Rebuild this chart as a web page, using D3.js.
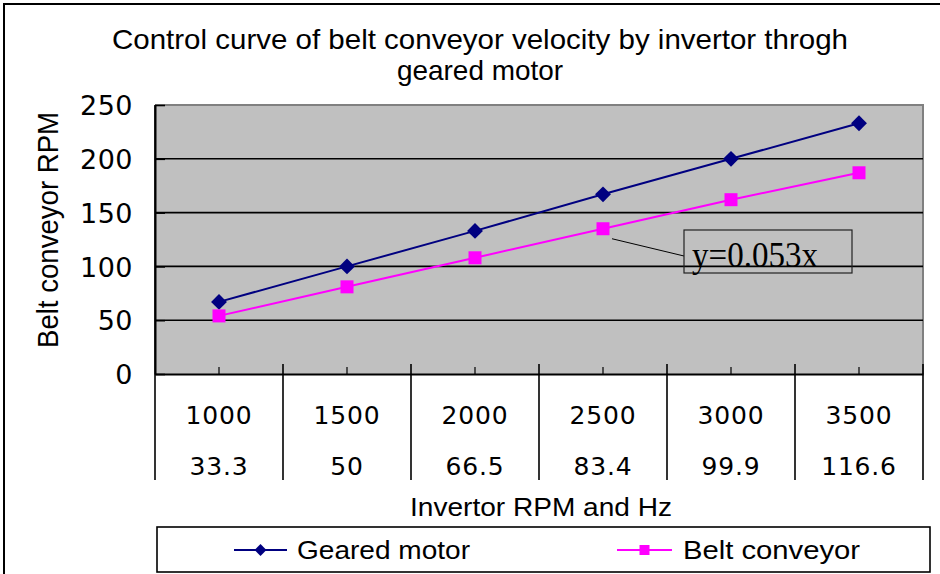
<!DOCTYPE html>
<html>
<head>
<meta charset="utf-8">
<script src="https://cdn.jsdelivr.net/npm/d3@7"></script>
<style>
  html, body { margin: 0; padding: 0; background: #ffffff; }
  svg { display: block; }
</style>
</head>
<body>
<svg id="chart" width="940" height="574"></svg>
<script>
// Invertor speed settings (RPM row and Hz row of the category table)
const rpmLabels = ["1000", "1500", "2000", "2500", "3000", "3500"];
const hzLabels = ["33.3", "50", "66.5", "83.4", "99.9", "116.6"];
// Output speeds, RPM
const gearedMotor = [67, 100, 133, 167, 200, 233];
const beltConveyor = [54, 81, 108, 135, 162, 187];
const yTicks = [0, 50, 100, 150, 200, 250];

const svg = d3.select("#chart");
const plot = { left: 155, right: 923, top: 105, bottom: 374 };
const tableBottom = 480;

const x = d3.scaleBand().domain(rpmLabels).range([plot.left, plot.right]).padding(0);
const y = d3.scaleLinear().domain([0, 250]).range([plot.bottom, plot.top]);
const cx = d => x(d) + x.bandwidth() / 2;

const sans = "'Liberation Sans', Arial, sans-serif";
const numFont = "'DejaVu Sans', 'Liberation Sans', sans-serif";

// outer frame
svg.append("path")
  .attr("d", "M4,580 V4 H945")
  .attr("fill", "none").attr("stroke", "#000").attr("stroke-width", 2);

// title
const title = svg.append("g").attr("font-family", sans).attr("font-size", 28).attr("fill", "#000");
title.append("text").attr("x", 480).attr("y", 49).attr("text-anchor", "middle")
  .attr("textLength", 736).attr("lengthAdjust", "spacingAndGlyphs")
  .text("Control curve of belt conveyor velocity by invertor throgh");
title.append("text").attr("x", 480).attr("y", 80).attr("text-anchor", "middle")
  .attr("textLength", 166).attr("lengthAdjust", "spacingAndGlyphs")
  .text("geared motor");

// plot background
svg.append("rect")
  .attr("x", plot.left).attr("y", plot.top)
  .attr("width", plot.right - plot.left).attr("height", plot.bottom - plot.top)
  .attr("fill", "#c0c0c0");

// top and right border of plot area
svg.append("path")
  .attr("d", `M${plot.left},${plot.top} H${plot.right} V${plot.bottom}`)
  .attr("fill", "none").attr("stroke", "#808080").attr("stroke-width", 2);

// horizontal gridlines
svg.append("g").selectAll("line")
  .data(yTicks.filter(v => v > 0 && v < 250))
  .join("line")
  .attr("x1", plot.left).attr("x2", plot.right)
  .attr("y1", d => y(d)).attr("y2", d => y(d))
  .attr("stroke", "#000").attr("stroke-width", 1.6);

// y axis
const yAxis = svg.append("g")
  .attr("transform", `translate(${plot.left},0)`)
  .call(d3.axisLeft(y).tickValues(yTicks).tickSizeInner(-10).tickSizeOuter(0).tickPadding(22));
yAxis.select(".domain").attr("stroke", "#000").attr("stroke-width", 2);
yAxis.selectAll(".tick line").attr("stroke", "#000").attr("stroke-width", 1.6);
yAxis.selectAll(".tick text")
  .attr("font-family", numFont).attr("font-size", 27).attr("fill", "#000")
  .attr("letter-spacing", 0.5).attr("dy", "0.36em");

// x axis line with small ticks at category centres
const xAxis = svg.append("g")
  .attr("transform", `translate(0,${plot.bottom})`)
  .call(d3.axisBottom(x).tickSizeInner(-7).tickSizeOuter(0).tickFormat(""));
xAxis.select(".domain").attr("stroke", "#000").attr("stroke-width", 2.2);
xAxis.selectAll(".tick line").attr("stroke", "#000").attr("stroke-width", 1.2);

// category table separators
const bounds = rpmLabels.map(d => x(d)).concat([plot.right]);
svg.append("g").selectAll("line")
  .data(bounds)
  .join("line")
  .attr("x1", d => d).attr("x2", d => d)
  .attr("y1", (d, i) => (i === 0 ? plot.top : plot.bottom - 10))
  .attr("y2", tableBottom)
  .attr("stroke", "#000").attr("stroke-width", 1.6);

// table rows
const rows = svg.append("g").attr("font-family", numFont).attr("font-size", 25)
  .attr("fill", "#000").attr("text-anchor", "middle").attr("letter-spacing", 0.8);
rows.selectAll("text.rpm").data(rpmLabels).join("text").attr("class", "rpm")
  .attr("x", d => cx(d)).attr("y", 424).text(d => d);
rows.selectAll("text.hz").data(hzLabels).join("text").attr("class", "hz")
  .attr("x", (d, i) => cx(rpmLabels[i])).attr("y", 475).text(d => d);

// axis titles
svg.append("text")
  .attr("transform", "translate(58,230) rotate(-90)")
  .attr("text-anchor", "middle")
  .attr("font-family", sans).attr("font-size", 29).attr("fill", "#000")
  .attr("textLength", 236).attr("lengthAdjust", "spacingAndGlyphs")
  .text("Belt conveyor RPM");
svg.append("text")
  .attr("x", 541).attr("y", 516).attr("text-anchor", "middle")
  .attr("font-family", sans).attr("font-size", 26).attr("fill", "#000")
  .attr("textLength", 262).attr("lengthAdjust", "spacingAndGlyphs")
  .text("Invertor RPM and Hz");

// series
const line = d3.line().x((d, i) => cx(rpmLabels[i])).y(d => y(d));
const diamond = d3.symbol().type(d3.symbolDiamond2);
const series = [
  { name: "Geared motor", values: gearedMotor, color: "#000080", marker: "diamond" },
  { name: "Belt conveyor", values: beltConveyor, color: "#ff00ff", marker: "square" }
];

series.forEach(s => {
  svg.append("path").datum(s.values)
    .attr("d", line).attr("fill", "none")
    .attr("stroke", s.color).attr("stroke-width", 2);
  const g = svg.append("g");
  if (s.marker === "diamond") {
    g.selectAll("path").data(s.values).join("path")
      .attr("d", diamond.size(160)())
      .attr("transform", (d, i) => `translate(${cx(rpmLabels[i])},${y(d)})`)
      .attr("fill", s.color);
  } else {
    g.selectAll("rect").data(s.values).join("rect")
      .attr("x", (d, i) => cx(rpmLabels[i]) - 6.5).attr("y", d => y(d) - 6.5)
      .attr("width", 13).attr("height", 13)
      .attr("fill", s.color);
  }
});

// trend label for the belt conveyor line
const anchorX = cx("2500") + 9, anchorY = y(beltConveyor[3]) + 10;
const box = { x: 684, y: 230, w: 168, h: 43 };
svg.append("line")
  .attr("x1", anchorX).attr("y1", anchorY)
  .attr("x2", box.x).attr("y2", box.y + 26)
  .attr("stroke", "#000").attr("stroke-width", 1);
svg.append("rect")
  .attr("x", box.x).attr("y", box.y).attr("width", box.w).attr("height", box.h)
  .attr("fill", "none").attr("stroke", "#222").attr("stroke-width", 1.2);
svg.append("text")
  .attr("x", box.x + 8).attr("y", 267)
  .attr("font-family", "'Liberation Serif', 'Times New Roman', serif")
  .attr("font-size", 35).attr("fill", "#000")
  .attr("textLength", 126).attr("lengthAdjust", "spacingAndGlyphs")
  .text("y=0.053x");

// legend
const legend = svg.append("g");
legend.append("rect")
  .attr("x", 157).attr("y", 527).attr("width", 773).attr("height", 45)
  .attr("fill", "#fff").attr("stroke", "#000").attr("stroke-width", 1.6);
const legendItems = [
  { s: series[0], x0: 234, x1: 287, tx: 297, tw: 173 },
  { s: series[1], x0: 617, x1: 672, tx: 683, tw: 177 }
];
legendItems.forEach(it => {
  const ly = 550;
  legend.append("line")
    .attr("x1", it.x0).attr("x2", it.x1).attr("y1", ly).attr("y2", ly)
    .attr("stroke", it.s.color).attr("stroke-width", 2);
  const mx = (it.x0 + it.x1) / 2;
  if (it.s.marker === "diamond") {
    legend.append("path").attr("d", diamond.size(90)())
      .attr("transform", `translate(${mx},${ly})`).attr("fill", it.s.color);
  } else {
    legend.append("rect").attr("x", mx - 5).attr("y", ly - 5)
      .attr("width", 10).attr("height", 10).attr("fill", it.s.color);
  }
  legend.append("text")
    .attr("x", it.tx).attr("y", 559)
    .attr("font-family", sans).attr("font-size", 26).attr("fill", "#000")
    .attr("textLength", it.tw).attr("lengthAdjust", "spacingAndGlyphs")
    .text(it.s.name);
});
</script>
</body>
</html>
